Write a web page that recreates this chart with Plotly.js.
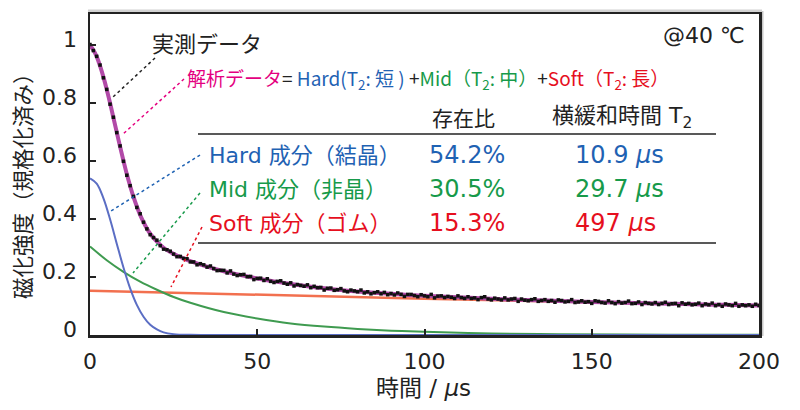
<!DOCTYPE html>
<html>
<head>
<meta charset="utf-8">
<script src="https://cdn.plot.ly/plotly-3.0.1.min.js"></script>
<style>
  body { margin: 0; background: #fff; }
  #chart { width: 800px; height: 410px; }
</style>
</head>
<body>
<div id="chart"></div>
<script>
// measured signal, one point per microsecond starting at t = 0
const measured = [
  1.002, 0.981, 0.961, 0.931, 0.887, 0.847, 0.796, 0.751, 0.698, 0.652,
  0.599, 0.551, 0.515, 0.478, 0.440, 0.418, 0.389, 0.366, 0.346, 0.336,
  0.327, 0.308, 0.296, 0.294, 0.289, 0.279, 0.270, 0.271, 0.264, 0.263,
  0.252, 0.252, 0.242, 0.246, 0.242, 0.234, 0.238, 0.229, 0.222, 0.223,
  0.223, 0.214, 0.221, 0.210, 0.205, 0.208, 0.209, 0.201, 0.202, 0.191,
  0.195, 0.196, 0.188, 0.194, 0.185, 0.181, 0.185, 0.187, 0.179, 0.175,
  0.180, 0.169, 0.174, 0.171, 0.168, 0.173, 0.163, 0.168, 0.163, 0.164,
  0.155, 0.161, 0.162, 0.154, 0.156, 0.160, 0.152, 0.149, 0.155, 0.152,
  0.149, 0.155, 0.145, 0.149, 0.142, 0.146, 0.149, 0.142, 0.147, 0.139,
  0.143, 0.138, 0.145, 0.140, 0.133, 0.140, 0.140, 0.136, 0.132, 0.139,
  0.135, 0.132, 0.140, 0.128, 0.134, 0.135, 0.129, 0.133, 0.130, 0.126,
  0.135, 0.129, 0.126, 0.132, 0.126, 0.128, 0.122, 0.129, 0.132, 0.124,
  0.121, 0.127, 0.124, 0.121, 0.128, 0.121, 0.124, 0.126, 0.116, 0.124,
  0.120, 0.118, 0.122, 0.125, 0.116, 0.119, 0.122, 0.116, 0.119, 0.113,
  0.121, 0.119, 0.114, 0.116, 0.122, 0.112, 0.114, 0.118, 0.113, 0.115,
  0.109, 0.118, 0.116, 0.112, 0.110, 0.118, 0.112, 0.108, 0.115, 0.110,
  0.112, 0.117, 0.108, 0.109, 0.114, 0.105, 0.112, 0.109, 0.107, 0.112,
  0.105, 0.109, 0.113, 0.105, 0.108, 0.109, 0.101, 0.111, 0.106, 0.109,
  0.104, 0.106, 0.110, 0.101, 0.107, 0.104, 0.110, 0.101, 0.105, 0.099,
  0.107, 0.104, 0.101, 0.109, 0.099, 0.104, 0.101, 0.104, 0.099, 0.106,
  0.102
]

// fitted total (解析データ)
const fitT = [0, 1, 2, 3, 4, 5, 6, 7, 8, 9, 10, 11, 12, 13, 14, 15, 16, 17, 18, 20,
  22, 24, 26, 28, 30, 35, 40, 45, 50, 55, 60, 65, 70, 75, 80, 85, 90, 95, 100,
  110, 120, 130, 140, 150, 160, 170, 180, 190, 200]
const fitY = [0.998, 0.983, 0.960, 0.928, 0.890, 0.847, 0.800, 0.749, 0.699, 0.649,
  0.601, 0.555, 0.514, 0.476, 0.443, 0.414, 0.389, 0.367, 0.349, 0.322,
  0.301, 0.286, 0.274, 0.264, 0.255, 0.236, 0.220, 0.207, 0.195, 0.185, 0.176,
  0.168, 0.161, 0.155, 0.150, 0.146, 0.142, 0.138, 0.135,
  0.130, 0.125, 0.121, 0.1175, 0.114, 0.1115, 0.109, 0.106, 0.104, 0.102]

// components
const hardT = [0, 2, 4, 6, 8, 10, 12, 14, 16, 18, 20, 22, 25, 30, 35, 200]
const hardY = [0.540, 0.522, 0.472, 0.399, 0.315, 0.233, 0.161, 0.104, 0.063, 0.035,
  0.019, 0.009, 0.003, 0.0005, 0, 0]
const midT = [0, 5, 10, 15, 20, 25, 30, 40, 50, 60, 70, 80, 90, 100, 120, 140, 160, 180, 200]
const midY = [0.305, 0.258, 0.218, 0.184, 0.156, 0.131, 0.111, 0.079, 0.057, 0.040,
  0.029, 0.021, 0.015, 0.011, 0.005, 0.003, 0.0015, 0.001, 0.0005]
const softT = [0, 50, 100, 150, 200]
const softY = [0.153, 0.138, 0.125, 0.113, 0.102]

const xTicks = [0, 50, 100, 150, 200]
const yTicks = [0, 0.2, 0.4, 0.6, 0.8, 1]
const yTickText = ['0', '0.2', '0.4', '0.6', '0.8', '1']

const rowNames = ['Hard 成分（結晶）', 'Mid 成分（非晶）', 'Soft 成分（ゴム）']
const rowRatio = ['54.2%', '30.5%', '15.3%']
const rowT2 = ['10.9 <i>μ</i>s', '29.7 <i>μ</i>s', '497 <i>μ</i>s']
const rowColors = ['#1f62b3', '#179a4a', '#e60f1e']

const FONT = 'DejaVu Sans, Noto Sans CJK JP, sans-serif'
const JP = 'Noto Sans CJK JP, sans-serif'

// pixel helpers for placing notes
const px = (x) => (x - 90) / 3.345
const py = (y) => (335 - y) / 290

function note(text, x, y, size, color, anchor, family) {
  return {
    text: text, x: px(x), y: py(y), xref: 'x', yref: 'y',
    showarrow: false, xanchor: anchor || 'left', yanchor: 'middle',
    font: {family: family || FONT, size: size, color: color || '#222'}
  }
}

function dotLine(x0, y0, x1, y1, color) {
  return {
    type: 'line', xref: 'x', yref: 'y',
    x0: px(x0), y0: py(y0), x1: px(x1), y1: py(y1),
    line: {color: color, width: 1.5, dash: 'dot'}
  }
}

function hLine(y, color) {
  return {
    type: 'line', xref: 'x', yref: 'y',
    x0: px(198), x1: px(716), y0: py(y), y1: py(y),
    line: {color: color, width: 1.3}
  }
}

const data = [
  {x: softT, y: softY, mode: 'lines', line: {color: '#f2704f', width: 2.5}, hoverinfo: 'skip'},
  {x: midT, y: midY, mode: 'lines', line: {color: '#3f9b50', width: 2, shape: 'spline'}, hoverinfo: 'skip'},
  {x: hardT, y: hardY, mode: 'lines', line: {color: '#5b6ec4', width: 2, shape: 'spline'}, hoverinfo: 'skip'},
  {x: fitT, y: fitY, mode: 'lines', line: {color: '#b24aa8', width: 4, shape: 'spline'}, hoverinfo: 'skip'},
  {y: measured, x0: 0, dx: 1, mode: 'markers',
    marker: {color: '#111', size: 3.5, symbol: 'square'}, hoverinfo: 'skip'}
]

const annotations = [
  note('実測データ', 150, 42, 22, '#222', 'left', JP),
  note('<span style="color:#e4007f">解析データ</span>= ' +
    '<span style="color:#1f62b3">Hard(T<sub>2</sub>: 短 )</span> +' +
    '<span style="color:#179a4a">Mid（T<sub>2</sub>: 中）</span>+' +
    '<span style="color:#e60f1e">Soft（T<sub>2</sub>: 長）</span>', 185, 79, 19, '#222', 'left', JP),
  note('@40 ℃', 747, 35, 22, '#222', 'right'),
  note('存在比', 430, 117, 21, '#222', 'left', JP),
  note('横緩和時間 T<sub>2</sub>', 550, 117, 22, '#222', 'left')
]
const rowY = [155, 189, 223]
for (let i = 0; i < rowNames.length; i++) {
  annotations.push(note(rowNames[i], 207, rowY[i], 22, rowColors[i], 'left'))
  annotations.push(note(rowRatio[i], 507, rowY[i], 24, rowColors[i], 'right'))
  annotations.push(note(rowT2[i], 573, rowY[i], 24, rowColors[i], 'left'))
}
// axis titles
annotations.push({
  text: '時間 / <i>μ</i>s', xref: 'paper', yref: 'paper', x: (423 - 90) / 669, y: -(388 - 335) / 321,
  showarrow: false, xanchor: 'center', yanchor: 'middle', font: {family: FONT, size: 23, color: '#222'}
})
annotations.push({
  text: '磁化強度（規格化済み）', xref: 'paper', yref: 'paper', x: -(90 - 22) / 669, y: (335 - 181) / 321,
  showarrow: false, xanchor: 'center', yanchor: 'middle', textangle: -90,
  font: {family: JP, size: 21.5, color: '#222'}
})

const shapes = [
  // soft grey shadow round the frame
  {type: 'line', xref: 'paper', yref: 'paper', x0: 1 + 3 / 669, x1: 1 + 3 / 669, y0: 1 + 3 / 321, y1: -1 / 321,
    line: {color: '#c8c8c8', width: 3}, layer: 'below'},
  {type: 'line', xref: 'paper', yref: 'paper', x0: -2 / 669, x1: 1 + 3 / 669, y0: 1 + 3 / 321, y1: 1 + 3 / 321,
    line: {color: '#d2d2d2', width: 3}, layer: 'below'},
  dotLine(155, 58, 113, 97, '#222'),
  dotLine(184, 79, 122, 135, '#e4007f'),
  dotLine(200, 155, 111, 211, '#1f62b3'),
  dotLine(200, 193, 133, 273, '#179a4a'),
  dotLine(202, 227, 171, 287, '#e60f1e'),
  hLine(134, '#222'),
  hLine(243, '#222')
]

const layout = {
  width: 800, height: 410,
  margin: {l: 90, r: 41, t: 14, b: 75},
  paper_bgcolor: '#fff', plot_bgcolor: '#fff',
  showlegend: false,
  font: {family: FONT, color: '#222'},
  xaxis: {
    range: [0, 200], tickvals: xTicks, ticks: 'inside', ticklen: 6, tickwidth: 2,
    tickcolor: '#222', showgrid: false, zeroline: false,
    showline: true, mirror: true, linecolor: '#222', linewidth: 2.5,
    tickfont: {family: FONT, size: 22, color: '#222'}, ticklabelstandoff: 5
  },
  yaxis: {
    range: [0, 1.107], tickvals: yTicks, ticktext: yTickText, ticks: 'inside', ticklen: 6,
    tickwidth: 2, tickcolor: '#222', showgrid: false, zeroline: false,
    showline: true, mirror: true, linecolor: '#222', linewidth: 2.5,
    tickfont: {family: FONT, size: 22, color: '#222'}, ticklabelstandoff: 6, ticklabelshift: -6
  },
  annotations: annotations,
  shapes: shapes
}

Plotly.newPlot('chart', data, layout, {staticPlot: true})
</script>
</body>
</html>
